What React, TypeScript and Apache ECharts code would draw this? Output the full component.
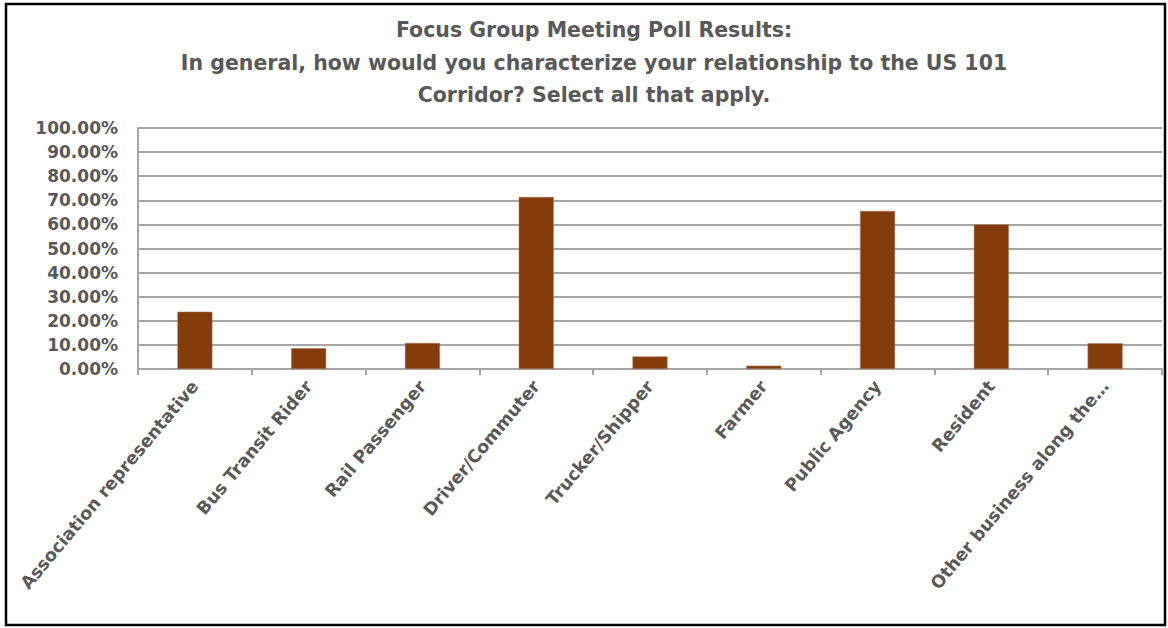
import React, { useEffect, useRef } from "react";
import * as echarts from "echarts";

const titleLines = [
  "Focus Group Meeting Poll Results:",
  "In general, how would you characterize your relationship to the US 101",
  "Corridor? Select all that apply.",
];

const categories = [
  "Association representative",
  "Bus Transit Rider",
  "Rail Passenger",
  "Driver/Commuter",
  "Trucker/Shipper",
  "Farmer",
  "Public Agency",
  "Resident",
  "Other business along the…",
];

const values = [23.8, 8.6, 10.8, 71.4, 5.2, 1.4, 65.6, 60.0, 10.7];

const yTicks = { min: 0, max: 100, interval: 10 };

export default function App() {
  const ref = useRef<HTMLDivElement>(null);
  useEffect(() => {
    document.body.style.margin = "0";
    const chart = echarts.init(ref.current!, null, { renderer: "svg" });
    const gray = "#595959";
    chart.setOption({
      animation: false,
      backgroundColor: "#ffffff",
      title: {
        text: titleLines.join("\n"),
        left: 589,
        textAlign: "center",
        top: 9,
        textStyle: {
          fontFamily: "DejaVu Sans",
          fontWeight: "bold",
          fontSize: 20.5,
          color: gray,
          lineHeight: 32.5,
        },
      },
      graphic: [
        {
          type: "rect",
          shape: { x: 6, y: 4, width: 1159, height: 621 },
          style: { fill: "none", stroke: "#000", lineWidth: 2.5 },
          silent: true,
        },
      ],
      grid: { left: 138, right: 6, top: 128, bottom: 259 },
      xAxis: {
        type: "category",
        data: categories,
        axisLine: { lineStyle: { color: "#a6a6a6", width: 2 } },
        axisTick: { show: true, length: 6, lineStyle: { color: "#a6a6a6", width: 2 } },
        axisLabel: {
          rotate: 50,
          interval: 0,
          color: gray,
          fontFamily: "DejaVu Sans",
          fontWeight: "bold",
          fontSize: 17.5,
          margin: 14,
        },
      },
      yAxis: {
        type: "value",
        min: yTicks.min,
        max: yTicks.max,
        interval: yTicks.interval,
        axisLine: { show: true, lineStyle: { color: "#a6a6a6", width: 2 } },
        axisTick: { show: false },
        splitLine: { lineStyle: { color: "#a6a6a6", width: 2 } },
        axisLabel: {
          formatter: (v: number) => v.toFixed(2) + "%",
          color: gray,
          fontFamily: "DejaVu Sans",
          fontWeight: "bold",
          fontSize: 17,
          margin: 20,
        },
      },
      series: [
        {
          type: "bar",
          data: values,
          barWidth: 35,
          itemStyle: { color: "#843C0C", borderColor: "#b07a5a", borderWidth: 0.5 },
        },
      ],
    });
    return () => chart.dispose();
  }, []);
  return <div ref={ref} style={{ width: 1168, height: 628 }} />;
}
